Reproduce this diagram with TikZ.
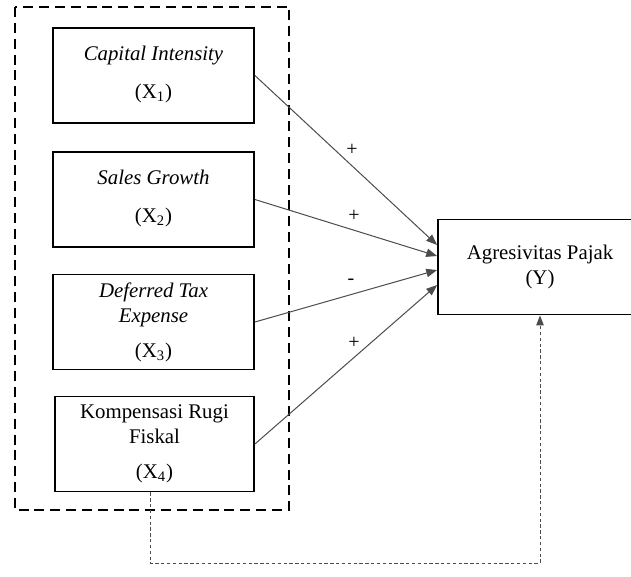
\documentclass[tikz,border=0pt]{standalone}
\usepackage{fontspec}
\setmainfont{Liberation Serif}
\usetikzlibrary{arrows.meta, positioning, calc}

\begin{document}
\begin{tikzpicture}[x=0.6pt,y=-0.6pt,
    varbox/.style={draw,line width=1.1pt,minimum width=120.6pt,minimum height=57pt,
      align=center,inner sep=0pt,font=\fontsize{12.5}{15}\selectfont},
    path/.style={draw=black!70,line width=0.6pt,-{Triangle[length=6.5pt,width=5pt]}},
    sign/.style={font=\fontsize{12}{14}\selectfont}]
  \clip (0,0) rectangle (631,577);
  \fill[white] (0,0) rectangle (631,577);
  % independent variables
  \draw[dashed,line width=1.2pt,dash pattern=on 6pt off 3.5pt] (15,7) rectangle (289,510);
  \node[varbox] (x1) at (153.5,75.5) {\textit{Capital Intensity}\\[8pt](X\textsubscript{1})\\[-11.5pt]};
  \node[varbox] (x2) at (153.5,199.5) {\textit{Sales Growth}\\[8pt](X\textsubscript{2})\\[-11.5pt]};
  \node[varbox] (x3) at (153.5,322) {\textit{Deferred Tax}\\\textit{Expense}\\[6pt](X\textsubscript{3})};
  \node[varbox,minimum width=119.4pt] (x4) at (154.5,444) {Kompensasi Rugi\\Fiskal\\[6pt](X\textsubscript{4})};
  % dependent variable
  \node[varbox,minimum width=122.4pt] (y) at (540,267) {Agresivitas Pajak\\(Y)};
  \coordinate (y1) at ($(y.west)+(0,-22)$);
  \coordinate (y2) at ($(y.west)+(0,-11)$);
  \coordinate (y3) at ($(y.west)+(0,3)$);
  \coordinate (y4) at ($(y.west)+(0,18)$);
  \draw[path] (x1.east) -- (y1);
  \draw[path] (x2.east) -- (y2);
  \draw[path] (x3.east) -- (y3);
  \draw[path] (x4.east) -- (y4);
  \node[sign] (s1) at (352,150) {+};
  \node[sign] (s2) at (354,216) {+};
  \node[sign] (s3) at (351,282) {-};
  \node[sign] (s4) at (354,343) {+};
  % simultaneous effect
  \coordinate (c1) at (150,563);
  \coordinate (c2) at (540,563);
  \draw[black!70,line width=0.6pt,dash pattern=on 2pt off 1.5pt,-{Triangle[length=6pt,width=4.5pt]}]
    (x4.south -| c1) -- (c1) -- (c2) -- (y.south -| c2);
\end{tikzpicture}
\end{document}
